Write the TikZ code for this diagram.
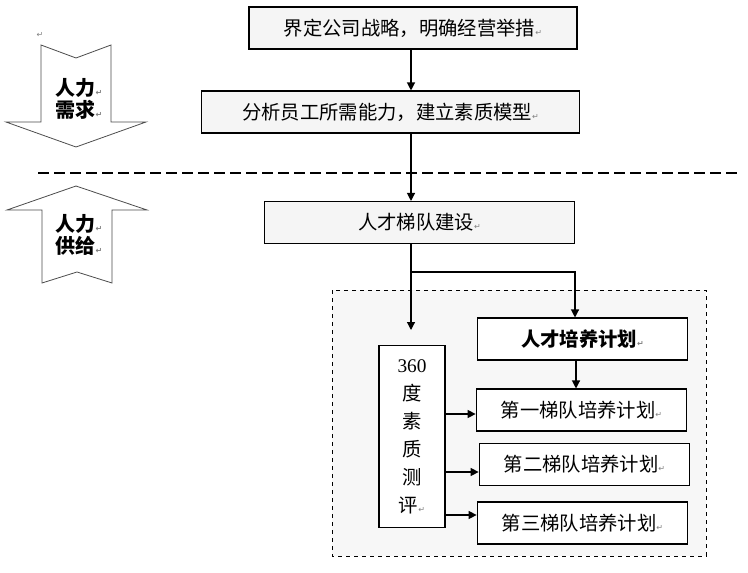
\documentclass[tikz,border=0pt]{standalone}
\usepackage{fontspec}
\setmainfont{Liberation Serif}
\newfontfamily\cjk{Noto Sans CJK SC}
\newfontfamily\retf{DejaVu Sans}
\usetikzlibrary{arrows.meta}
\newcommand{\rt}{{\retf\fontsize{6}{6}\selectfont\color{gray}↵}}
\begin{document}
\begin{tikzpicture}[x=0.75pt,y=-0.75pt,
  box/.style={draw,line width=0.8pt,fill=#1,minimum height=31.5pt,inner sep=0pt,font=\cjk\fontsize{14.5}{16}\selectfont},
  box/.default=white,
  arr/.style={-{Triangle[length=6pt,width=6pt]},line width=0.9pt},
  big/.style={draw=black!70,line width=0.6pt,fill=white}]
\useasboundingbox (0,0) rectangle (748,573);
% big arrows
\draw[big] (41,45)--(76,58)--(111,45)--(111,122)--(146,122)--(76,147)--(6,122)--(41,122)--cycle;
\node[font=\cjk\bfseries\fontsize{15}{17}\selectfont,align=center] (dem) at (79,99) {人力\rt\\需求\rt};
\draw[big] (76,186)--(147,210)--(112,210)--(112,283)--(77,272)--(42,283)--(42,210)--(7,210)--cycle;
\node[font=\cjk\bfseries\fontsize{15}{17}\selectfont,align=center] (sup) at (79,235) {人力\rt\\供给\rt};
\node (r1) at (40,35) {\rt};
% dashed line
\draw[dashed,line width=0.8pt,dash pattern=on 8pt off 4pt] (38,173)--(738,173);
% dashed region
\draw[dashed,line width=0.7pt,fill=black!3] (332,290) rectangle (706,556);
% boxes
\node[box=black!4,minimum width=246pt] (b1) at (413,28) {界定公司战略，明确经营举措\rt};
\node[box=black!4,minimum width=283pt] (b2) at (390.5,112) {分析员工所需能力，建立素质模型\rt};
\node[box=black!4,minimum width=233pt] (b3) at (419.5,222.5) {人才梯队建设\rt};
\node[box,minimum width=158pt,font=\cjk\bfseries\fontsize{14.5}{16}\selectfont] (p0) at (582.5,339) {人才培养计划\rt};
\node[box,minimum width=158pt] (p1) at (581.5,410) {第一梯队培养计划\rt};
\node[box,minimum width=158pt] (p2) at (584.5,464.5) {第二梯队培养计划\rt};
\node[box,minimum width=158pt] (p3) at (582.5,523) {第三梯队培养计划\rt};
\node[draw,line width=0.8pt,fill=white,minimum width=49.5pt,minimum height=137pt,inner sep=0pt,align=center,font=\cjk\fontsize{14.5}{21}\selectfont] (e) at (412,436.5) {{\fontspec{Liberation Serif}360}\\度\\素\\质\\测\\评\rt};
% connectors
\draw[arr] (b1.south -| 411,0) -- (b2.north -| 411,0);
\draw[arr] (b2.south -| 411,0) -- (b3.north -| 411,0);
\coordinate (j) at (411,272);
\draw[arr] (b3.south -| 411,0) -- (411,330);
\draw[arr] (j) -- (575,272) -- (p0.north -| 575,0);
\draw[arr] (p0.south -| 576,0) -- (p1.north -| 576,0);
\draw[arr] (e.east |- 0,414) -- (p1.west |- 0,414);
\draw[arr] (e.east |- 0,472) -- (p2.west |- 0,472);
\draw[arr] (e.east |- 0,515) -- (p3.west |- 0,515);
\end{tikzpicture}
\end{document}
